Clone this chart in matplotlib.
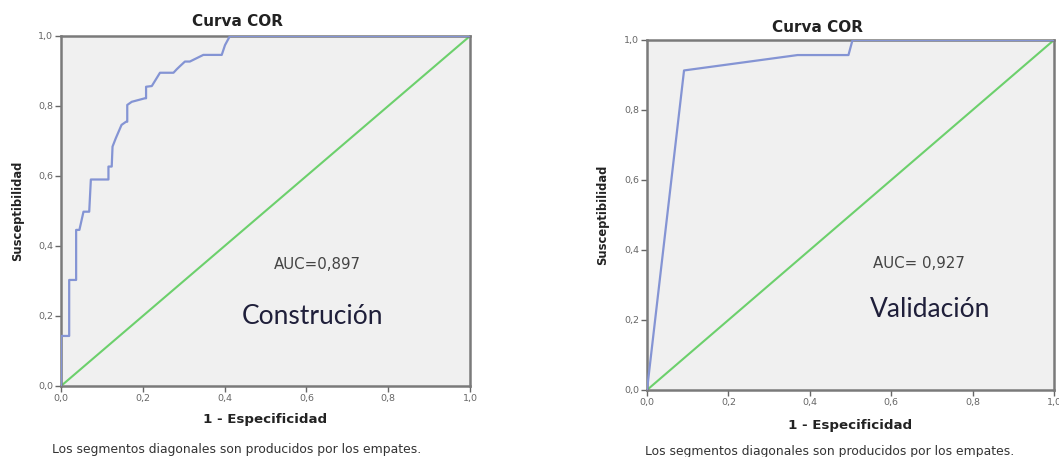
import matplotlib.pyplot as plt

# ROC curve (1 - specificity, sensitivity)
constr_fpr = [0.0, 0.0, 0.020, 0.020, 0.037, 0.037, 0.045, 0.055, 0.069, 0.073, 0.116,
              0.116, 0.124, 0.126, 0.134, 0.148, 0.159, 0.162, 0.162, 0.173, 0.205,
              0.208, 0.208, 0.222, 0.242, 0.275, 0.283, 0.291, 0.303, 0.315, 0.348,
              0.393, 0.401, 0.413, 1.0]
constr_tpr = [0.0, 0.143, 0.143, 0.303, 0.303, 0.446, 0.446, 0.498, 0.498, 0.590, 0.590,
              0.627, 0.627, 0.684, 0.708, 0.746, 0.755, 0.755, 0.803, 0.812, 0.822,
              0.822, 0.855, 0.857, 0.895, 0.895, 0.905, 0.914, 0.927, 0.927, 0.946,
              0.946, 0.974, 1.0, 1.0]

valid_fpr = [0.0, 0.091, 0.37, 0.495, 0.505, 1.0]
valid_tpr = [0.0, 0.913, 0.957, 0.957, 1.0, 1.0]

ticks = [0.0, 0.2, 0.4, 0.6, 0.8, 1.0]
tick_labels = ["0,0", "0,2", "0,4", "0,6", "0,8", "1,0"]

panels = [
    (constr_fpr, constr_tpr, "AUC=0,897", "Construción"),
    (valid_fpr, valid_tpr, "AUC= 0,927", "Validación"),
]

W, H = 1059, 457
fig = plt.figure(figsize=(W / 100, H / 100), dpi=100)
fig.patch.set_facecolor("white")

# pixel boxes: left, top, right, bottom
boxes = [(61, 36, 470, 386), (647, 40, 1054, 390)]
label_x = [18, 603]
title_pos = [(237, 22), (817, 28)]
xlab_pos = [(265, 420), (850, 425)]
note_pos = [(237, 449), (830, 452)]
auc_pos = [(0.628, 0.346), (0.668, 0.36)]
name_pos = [(0.616, 0.20), (0.695, 0.229)]

def px(x, y):
    return x / W, 1 - y / H

for i, (fpr, tpr, auc, name) in enumerate(panels):
    l, t, r, b = boxes[i]
    ax = fig.add_axes([l / W, 1 - b / H, (r - l) / W, (b - t) / H])
    ax.set_facecolor("#f0f0f0")
    ax.plot([0, 1], [0, 1], color="#6cd06c", lw=1.5, zorder=2)
    ax.plot(fpr, tpr, color="#8494d4", lw=1.6, zorder=3)
    ax.set_xlim(0, 1)
    ax.set_ylim(0, 1)
    ax.set_xticks(ticks)
    ax.set_xticklabels(tick_labels)
    ax.set_yticks(ticks)
    ax.set_yticklabels(tick_labels)
    ax.tick_params(labelsize=6.8, colors="#666666", length=4, width=1, pad=1.5)
    for s in ax.spines.values():
        s.set_color("#7a7a7a")
        s.set_linewidth(1.8)

    fig.text(*px(*title_pos[i]), "Curva COR", fontsize=11, fontweight="bold",
             ha="center", va="center", color="#222222")
    fig.text(*px(*xlab_pos[i]), "1 - Especificidad", fontsize=9.6, fontweight="bold",
             ha="center", va="center", color="#222222")
    fig.text(*px(label_x[i], (t + b) / 2), "Susceptibilidad", rotation=90, fontsize=8.3,
             fontweight="bold", ha="center", va="center", color="#222222")
    fig.text(*px(*note_pos[i]), "Los segmentos diagonales son producidos por los empates.",
             fontsize=8.9, ha="center", va="center", color="#333333")

    ax.text(*auc_pos[i], auc, transform=ax.transAxes, fontsize=10.8, color="#444444",
            ha="center", va="center")
    ax.text(*name_pos[i], name, transform=ax.transAxes, fontsize=19, family="Lato",
            color="#1f1f3a", ha="center", va="center")

fig.savefig("out.png", dpi=100)
